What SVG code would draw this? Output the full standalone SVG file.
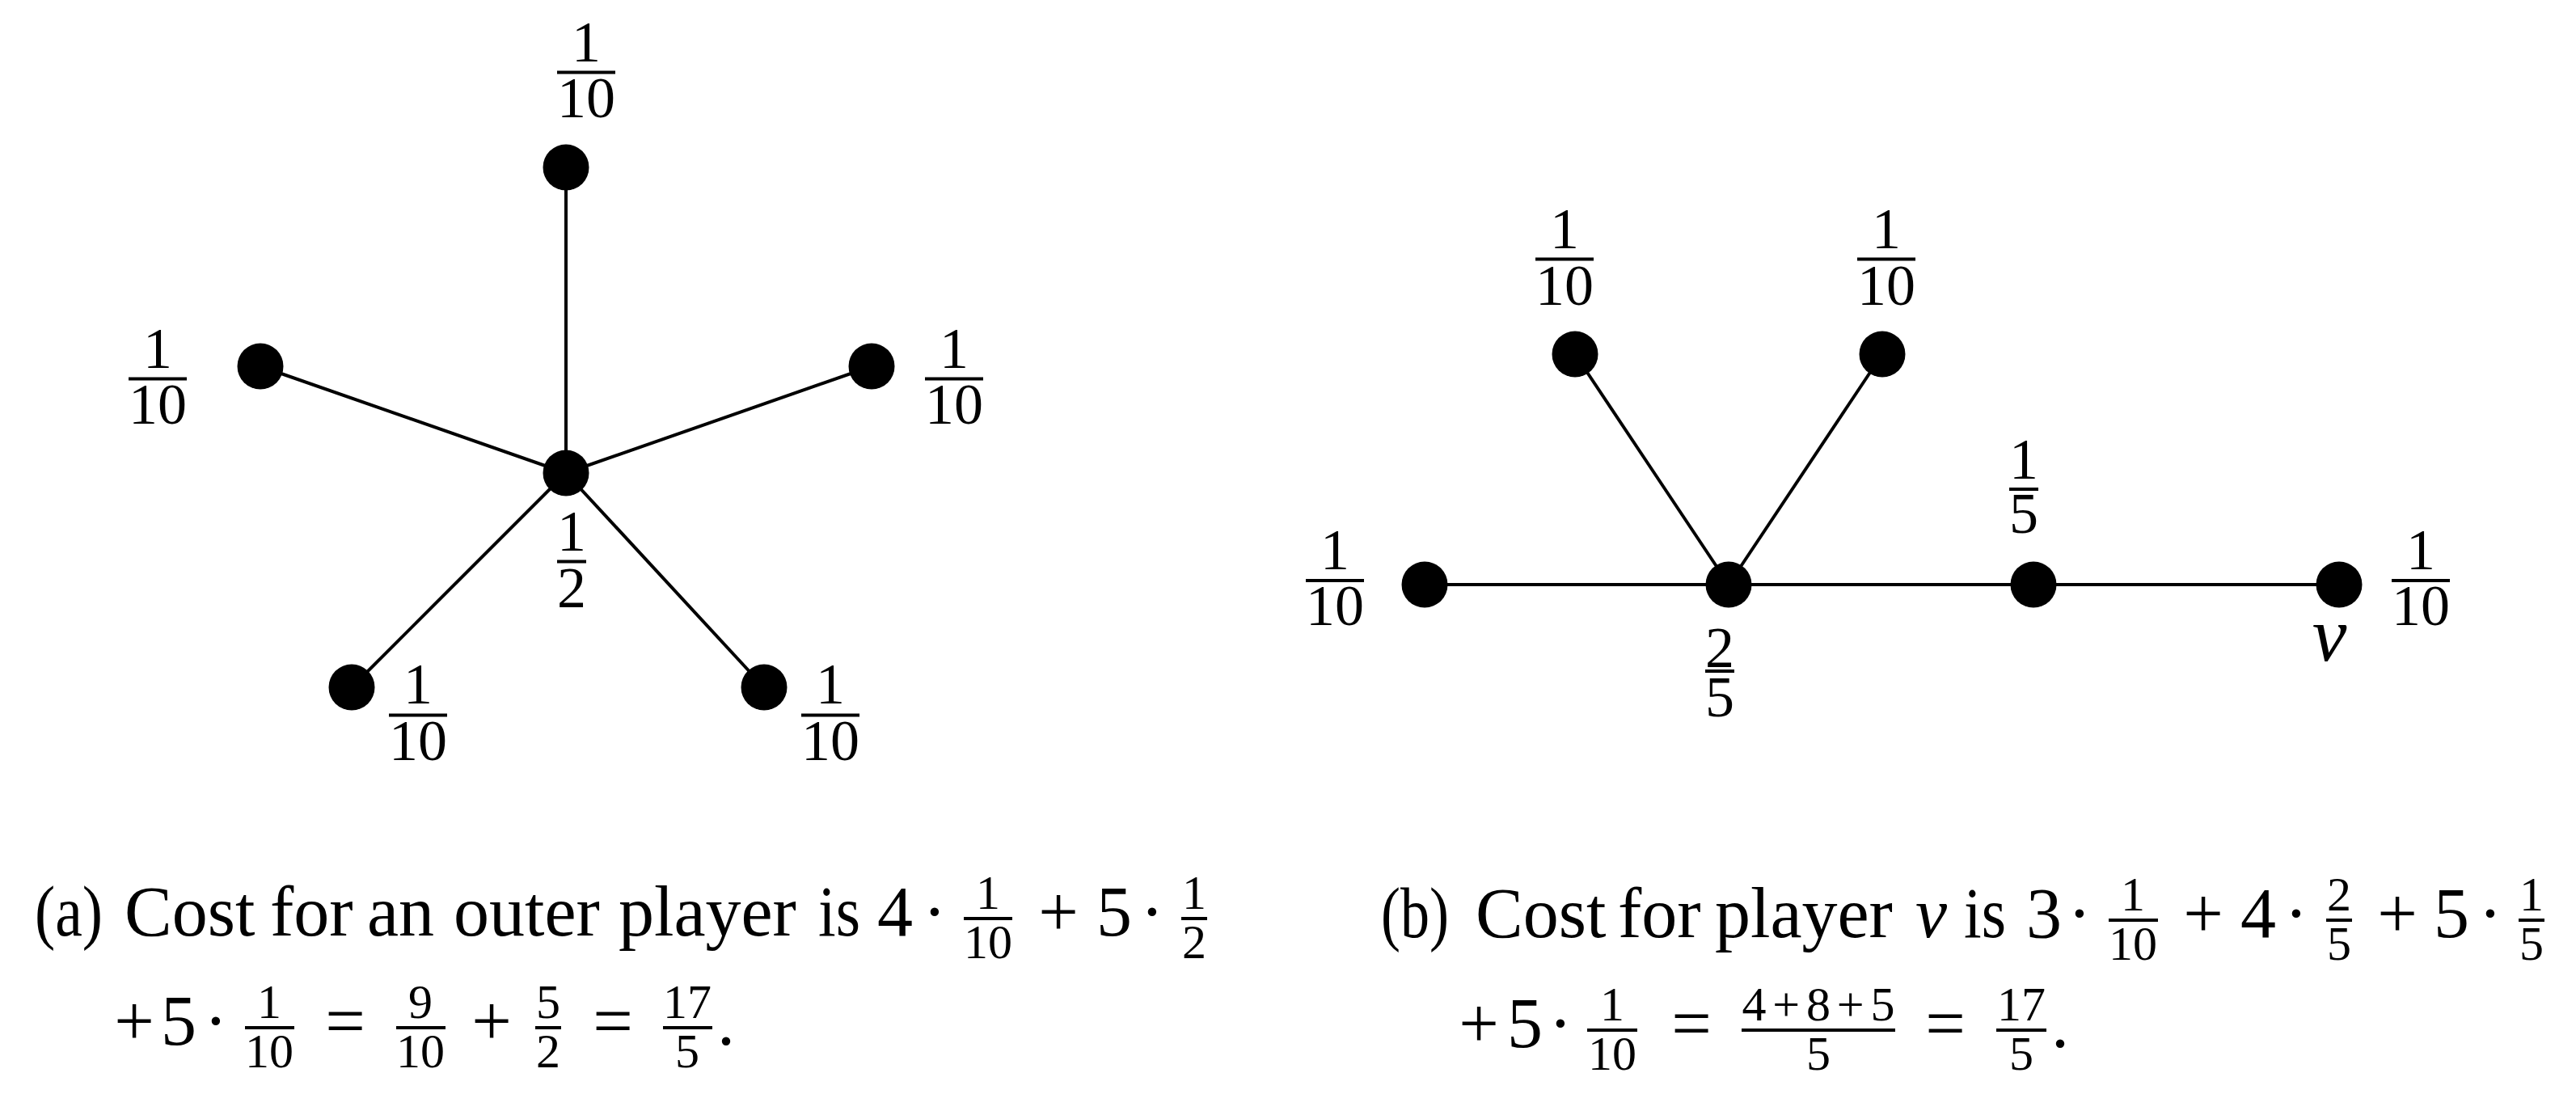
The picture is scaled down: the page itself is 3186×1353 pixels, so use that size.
<svg xmlns="http://www.w3.org/2000/svg" width="3186" height="1353" viewBox="0 0 3186 1353">
<style>
.bg{fill:#ffffff}
.edge{stroke:#000;stroke-width:4;fill:none}
.dot{fill:#000}
.lbl{font-family:"Liberation Serif","Times New Roman",serif;font-size:72px;fill:#000;text-anchor:middle}
.bar{stroke:#000;stroke-width:4}
.cap{font-family:"Liberation Serif","Times New Roman",serif;font-size:88px;fill:#000}
.mid{text-anchor:middle}
.it{font-style:italic}
.cf{font-family:"Liberation Serif","Times New Roman",serif;font-size:60px;fill:#000;text-anchor:middle}
.cbar{stroke:#000;stroke-width:4}
.vlab{font-family:"Liberation Serif","Times New Roman",serif;font-size:96px;font-style:italic;fill:#000;text-anchor:middle}
</style>
<rect class="bg" x="0" y="0" width="3186" height="1353"/>

<g id="connectors">
  <line class="edge" x1="700" y1="585" x2="700" y2="207"/>
  <line class="edge" x1="700" y1="585" x2="322" y2="453"/>
  <line class="edge" x1="700" y1="585" x2="1078" y2="453"/>
  <line class="edge" x1="700" y1="585" x2="435" y2="850"/>
  <line class="edge" x1="700" y1="585" x2="945" y2="850"/>
  <line class="edge" x1="1762" y1="723" x2="2138" y2="723"/>
  <line class="edge" x1="2138" y1="723" x2="2515" y2="723"/>
  <line class="edge" x1="2515" y1="723" x2="2893" y2="723"/>
  <line class="edge" x1="2138" y1="723" x2="1948" y2="438"/>
  <line class="edge" x1="2138" y1="723" x2="2328" y2="438"/>
</g>

<!-- Graph (a) -->
<g id="a-center">
  <circle class="dot" cx="700" cy="585" r="28.5"/>
  <text class="lbl" x="707" y="681">1</text>
  <line class="bar" x1="689" y1="694.5" x2="725" y2="694.5"/>
  <text class="lbl" x="707" y="751">2</text>
</g>
<g id="a-top">
  <circle class="dot" cx="700" cy="207" r="28.5"/>
  <text class="lbl" x="725" y="76">1</text>
  <line class="bar" x1="689" y1="89.5" x2="761" y2="89.5"/>
  <text class="lbl" x="725" y="145">10</text>
</g>
<g id="a-left">
  <circle class="dot" cx="322" cy="453" r="28.5"/>
  <text class="lbl" x="195" y="455">1</text>
  <line class="bar" x1="159" y1="468.5" x2="231" y2="468.5"/>
  <text class="lbl" x="195" y="524">10</text>
</g>
<g id="a-right">
  <circle class="dot" cx="1078" cy="453" r="28.5"/>
  <text class="lbl" x="1180" y="455">1</text>
  <line class="bar" x1="1144" y1="468.5" x2="1216" y2="468.5"/>
  <text class="lbl" x="1180" y="524">10</text>
</g>
<g id="a-bottom-left">
  <circle class="dot" cx="435" cy="850" r="28.5"/>
  <text class="lbl" x="517" y="870">1</text>
  <line class="bar" x1="481" y1="884.5" x2="553" y2="884.5"/>
  <text class="lbl" x="517" y="940">10</text>
</g>
<g id="a-bottom-right">
  <circle class="dot" cx="945" cy="850" r="28.5"/>
  <text class="lbl" x="1027" y="870">1</text>
  <line class="bar" x1="991" y1="884.5" x2="1063" y2="884.5"/>
  <text class="lbl" x="1027" y="940">10</text>
</g>

<!-- Graph (b) -->
<g id="b-left">
  <circle class="dot" cx="1762" cy="723" r="28.5"/>
  <text class="lbl" x="1651" y="704">1</text>
  <line class="bar" x1="1615" y1="718" x2="1687" y2="718"/>
  <text class="lbl" x="1651" y="773">10</text>
</g>
<g id="b-hub">
  <circle class="dot" cx="2138" cy="723" r="28.5"/>
  <text class="lbl" x="2127" y="825">2</text>
  <line class="bar" x1="2109" y1="830" x2="2145" y2="830"/>
  <text class="lbl" x="2127" y="886">5</text>
</g>
<g id="b-mid">
  <circle class="dot" cx="2515" cy="723" r="28.5"/>
  <text class="lbl" x="2503" y="592">1</text>
  <line class="bar" x1="2485" y1="605" x2="2521" y2="605"/>
  <text class="lbl" x="2503" y="659">5</text>
</g>
<g id="b-v">
  <circle class="dot" cx="2893" cy="723" r="28.5"/>
  <text class="vlab" x="2881" y="817">v</text>
  <text class="lbl" x="2994" y="704">1</text>
  <line class="bar" x1="2958" y1="718" x2="3030" y2="718"/>
  <text class="lbl" x="2994" y="773">10</text>
</g>
<g id="b-top-left">
  <circle class="dot" cx="1948" cy="438" r="28.5"/>
  <text class="lbl" x="1935" y="307">1</text>
  <line class="bar" x1="1899" y1="320.5" x2="1971" y2="320.5"/>
  <text class="lbl" x="1935" y="377">10</text>
</g>
<g id="b-top-right">
  <circle class="dot" cx="2328" cy="438" r="28.5"/>
  <text class="lbl" x="2333" y="307">1</text>
  <line class="bar" x1="2297" y1="320.5" x2="2369" y2="320.5"/>
  <text class="lbl" x="2333" y="377">10</text>
</g>

<!-- Caption (a) -->
<g id="caption-a">
  <text class="cap" y="1157">
    <tspan x="43" textLength="84" lengthAdjust="spacingAndGlyphs">(a)</tspan>
    <tspan x="154">Cost</tspan>
    <tspan x="334">for</tspan>
    <tspan x="454">an</tspan>
    <tspan x="561">outer</tspan>
    <tspan x="765">player</tspan>
    <tspan x="1012" textLength="52" lengthAdjust="spacingAndGlyphs">is</tspan>
    <tspan x="1085">4</tspan>
  </text>
  <text class="cap mid" x="1156" y="1157">·</text>
  <text class="cf" x="1222" y="1124">1</text>
  <line class="cbar" x1="1192" y1="1136" x2="1252" y2="1136"/>
  <text class="cf" x="1222" y="1185">10</text>
  <text class="cap mid" x="1309" y="1157">+</text>
  <text class="cap" x="1356" y="1157">5</text>
  <text class="cap mid" x="1425" y="1157">·</text>
  <text class="cf" x="1477" y="1124">1</text>
  <line class="cbar" x1="1461" y1="1136" x2="1493" y2="1136"/>
  <text class="cf" x="1477" y="1185">2</text>

  <text class="cap mid" x="166" y="1292">+</text>
  <text class="cap" x="199" y="1292">5</text>
  <text class="cap mid" x="267" y="1292">·</text>
  <text class="cf" x="333" y="1259">1</text>
  <line class="cbar" x1="303" y1="1271" x2="364" y2="1271"/>
  <text class="cf" x="333" y="1320">10</text>
  <text class="cap mid" x="427" y="1292">=</text>
  <text class="cf" x="520" y="1259">9</text>
  <line class="cbar" x1="490" y1="1271" x2="551" y2="1271"/>
  <text class="cf" x="520" y="1320">10</text>
  <text class="cap mid" x="608" y="1292">+</text>
  <text class="cf" x="678" y="1259">5</text>
  <line class="cbar" x1="662" y1="1271" x2="694" y2="1271"/>
  <text class="cf" x="678" y="1320">2</text>
  <text class="cap mid" x="758" y="1292">=</text>
  <text class="cf" x="850" y="1259">17</text>
  <line class="cbar" x1="820" y1="1271" x2="881" y2="1271"/>
  <text class="cf" x="850" y="1320">5</text>
  <text class="cap" x="887" y="1292">.</text>
</g>

<!-- Caption (b) -->
<g id="caption-b">
  <text class="cap" y="1159">
    <tspan x="1708" textLength="84" lengthAdjust="spacingAndGlyphs">(b)</tspan>
    <tspan x="1825">Cost</tspan>
    <tspan x="2001">for</tspan>
    <tspan x="2121">player</tspan>
    <tspan x="2369" class="it">v</tspan>
    <tspan x="2429" textLength="52" lengthAdjust="spacingAndGlyphs">is</tspan>
    <tspan x="2506">3</tspan>
  </text>
  <text class="cap mid" x="2572" y="1159">·</text>
  <text class="cf" x="2638" y="1126">1</text>
  <line class="cbar" x1="2608" y1="1138" x2="2669" y2="1138"/>
  <text class="cf" x="2638" y="1187">10</text>
  <text class="cap mid" x="2725" y="1159">+</text>
  <text class="cap" x="2771" y="1159">4</text>
  <text class="cap mid" x="2840" y="1159">·</text>
  <text class="cf" x="2893" y="1126">2</text>
  <line class="cbar" x1="2877" y1="1138" x2="2909" y2="1138"/>
  <text class="cf" x="2893" y="1187">5</text>
  <text class="cap mid" x="2965" y="1159">+</text>
  <text class="cap" x="3010" y="1159">5</text>
  <text class="cap mid" x="3080" y="1159">·</text>
  <text class="cf" x="3131" y="1126">1</text>
  <line class="cbar" x1="3115" y1="1138" x2="3147" y2="1138"/>
  <text class="cf" x="3131" y="1187">5</text>

  <text class="cap mid" x="1829" y="1295">+</text>
  <text class="cap" x="1864" y="1295">5</text>
  <text class="cap mid" x="1930" y="1295">·</text>
  <text class="cf" x="1994" y="1262">1</text>
  <line class="cbar" x1="1963" y1="1274" x2="2025" y2="1274"/>
  <text class="cf" x="1994" y="1323">10</text>
  <text class="cap mid" x="2092" y="1295">=</text>
  <text class="cf" x="2249" y="1262" textLength="189" lengthAdjust="spacing">4+8+5</text>
  <line class="cbar" x1="2154" y1="1274" x2="2344" y2="1274"/>
  <text class="cf" x="2249" y="1323">5</text>
  <text class="cap mid" x="2406" y="1295">=</text>
  <text class="cf" x="2500" y="1262">17</text>
  <line class="cbar" x1="2469" y1="1274" x2="2531" y2="1274"/>
  <text class="cf" x="2500" y="1323">5</text>
  <text class="cap" x="2537" y="1295">.</text>
</g>
</svg>
